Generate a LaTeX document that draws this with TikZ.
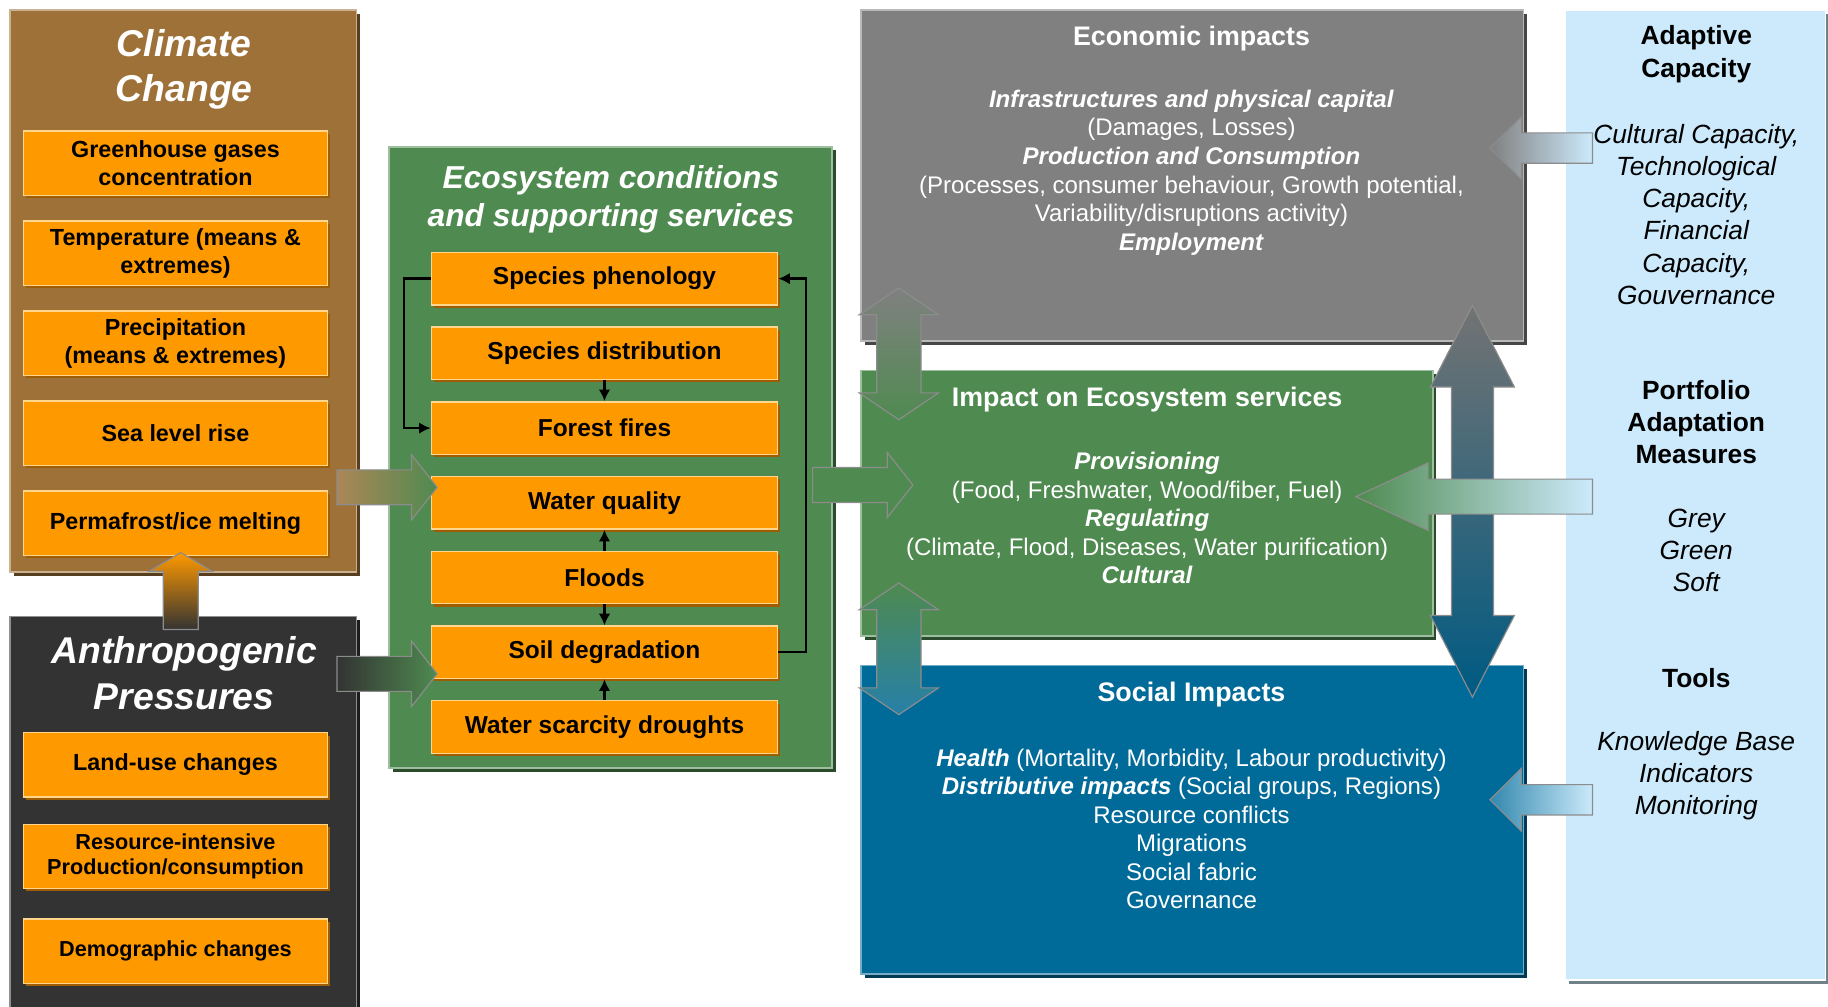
\documentclass[tikz,border=0pt]{standalone}
\usepackage{fontspec}
\setmainfont{Liberation Sans}
\usetikzlibrary{positioning, shadows, calc, arrows.meta}

\definecolor{ccbrown}{RGB}{158,113,57}
\definecolor{apdark}{RGB}{51,51,51}
\definecolor{boxorange}{RGB}{255,153,0}
\definecolor{orangedark}{RGB}{160,92,0}
\definecolor{orangelight}{RGB}{255,214,140}
\definecolor{ecogreen}{RGB}{79,138,80}
\definecolor{econgray}{RGB}{128,128,128}
\definecolor{socblue}{RGB}{0,106,153}
\definecolor{panelblue}{RGB}{204,234,251}

% fat arrows: style, tail, tip, shaft half width, head half width, head length
\newcommand{\fatarrowh}[6]{%
  \path[#1] let \p1=(#2), \p2=(#3) in
    ({\x1},{\y2+#4}) -- ({\x2-(#6)},{\y2+#4}) -- ({\x2-(#6)},{\y2+#5}) -- ({\x2},{\y2})
    -- ({\x2-(#6)},{\y2-#5}) -- ({\x2-(#6)},{\y2-#4}) -- ({\x1},{\y2-#4}) -- cycle;}
\newcommand{\fatarrowv}[6]{%
  \path[#1] let \p1=(#2), \p2=(#3) in
    ({\x2-#4},{\y1}) -- ({\x2-#4},{\y2-(#6)}) -- ({\x2-#5},{\y2-(#6)}) -- ({\x2},{\y2})
    -- ({\x2+#5},{\y2-(#6)}) -- ({\x2+#4},{\y2-(#6)}) -- ({\x2+#4},{\y1}) -- cycle;}
% double arrow: style, top tip, bottom tip, shaft, head, head length
\newcommand{\fatarrowvv}[6]{%
  \path[#1] let \p1=(#2), \p2=(#3) in
    ({\x1},{\y1}) -- ({\x1+#5},{\y1-#6}) -- ({\x1+#4},{\y1-#6}) -- ({\x1+#4},{\y2+#6})
    -- ({\x1+#5},{\y2+#6}) -- ({\x1},{\y2}) -- ({\x1-#5},{\y2+#6}) -- ({\x1-#4},{\y2+#6})
    -- ({\x1-#4},{\y1-#6}) -- ({\x1-#5},{\y1-#6}) -- cycle;}

\tikzset{
  panel/.style={fill=#1, draw=#1!55!white, line width=0.8pt, anchor=north west, inner sep=0pt,
    drop shadow={shadow xshift=1.6pt, shadow yshift=-1.6pt, opacity=1, fill=#1!55!black}},
  factor/.style={fill=boxorange, draw=orangelight, line width=0.6pt, inner sep=0pt, align=center,
    drop shadow={shadow xshift=1.2pt, shadow yshift=-1.2pt, opacity=1, fill=orangedark}},
  ccfactor/.style={factor, minimum width=130.5pt, minimum height=27.5pt,
    font=\bfseries\fontsize{10}{12}\selectfont},
  ecofactor/.style={factor, minimum width=148.5pt, minimum height=22.5pt,
    font=\bfseries\fontsize{10.5}{12}\selectfont},
  bigtitle/.style={text=white, align=center, font=\bfseries\itshape\fontsize{16}{19.5}\selectfont},
  boxtitle/.style={text=white, font=\bfseries\fontsize{11.5}{13}\selectfont},
  boxbody/.style={text=white, align=center, font=\fontsize{10.3}{12.25}\selectfont},
  paneltext/.style={align=center, font=\fontsize{11.3}{13.75}\selectfont},
  loop/.style={line width=1pt, -{Latex[length=5pt,width=5pt]}},
  fat/.style={draw=white!55!black, line width=0.5pt}
}

\begin{document}
\begin{tikzpicture}[x=0.5pt, y=-0.5pt]
\useasboundingbox (0,0) rectangle (1568,863);

% drivers
\node[panel=ccbrown, minimum width=148.5pt, minimum height=241pt] (climate) at (8,8) {};
\node[bigtitle] (cctitle) at (158,59.5) {Climate\\Change};
\node[ccfactor] (ghg) at (150.5,140) {Greenhouse gases\\concentration};
\node[ccfactor, below=10.5pt of ghg] (temp) {Temperature (means \&\\extremes)};
\node[ccfactor, below=10.5pt of temp] (prec) {Precipitation\\(means \& extremes)};
\node[ccfactor, below=10.5pt of prec] (sea) {Sea level rise};
\node[ccfactor, below=10.5pt of sea] (perma) {Permafrost/ice melting};

\node[panel=apdark, minimum width=148.5pt, minimum height=175pt] (anthro) at (8,528) {};
\node[bigtitle] (aptitle) at (158,577.5) {Anthropogenic\\Pressures};
\node[ccfactor] (landuse) at (150.5,656) {Land-use changes};
\node[ccfactor, below=11.25pt of landuse, font=\bfseries\fontsize{9.3}{11}\selectfont] (resource) {Resource-intensive\\Production/consumption};
\node[ccfactor, below=12.5pt of resource, font=\bfseries\fontsize{9.3}{11}\selectfont] (demog) {Demographic changes};

% ecosystem conditions
\node[panel=ecogreen, minimum width=190pt, minimum height=266.5pt] (eco) at (333,125) {};
\node[bigtitle, font=\bfseries\itshape\fontsize{13.6}{16.5}\selectfont] (ecotitle) at (524,171) {Ecosystem conditions\\and supporting services};
\node[ecofactor] (phen) at (518.5,239) {Species phenology};
\node[ecofactor, below=8.95pt of phen] (dist) {Species distribution};
\node[ecofactor, below=8.95pt of dist] (fire) {Forest fires};
\node[ecofactor, below=8.95pt of fire] (wq) {Water quality};
\node[ecofactor, below=8.95pt of wq] (flood) {Floods};
\node[ecofactor, below=8.95pt of flood] (soil) {Soil degradation};
\node[ecofactor, below=8.95pt of soil] (scarc) {Water scarcity droughts};

\draw[loop] (phen.west) -- ++(-11.5pt,0) |- (fire.west);
\draw[loop] (soil.east) -- ++(12pt,0) |- (phen.east);
\draw[loop] (dist.south) -- (fire.north);
\draw[loop] (flood.north) -- (wq.south);
\draw[loop] (flood.south) -- (soil.north);
\draw[loop] (scarc.north) -- (soil.south);

% impacts
\node[panel=econgray, minimum width=284pt, minimum height=142pt] (econ) at (738,8) {};
\node[boxtitle] (econtitle) at (1022,33) {Economic impacts};
\node[boxbody] (econtext) at (1022,148) {\textbf{\textit{Infrastructures and physical capital}}\\(Damages, Losses)\\\textbf{\textit{Production and Consumption}}\\(Processes, consumer behaviour, Growth potential,\\Variability/disruptions activity)\\\textbf{\textit{Employment}}};

\node[panel=ecogreen, minimum width=245pt, minimum height=114pt] (impact) at (738,317) {};
\node[boxtitle] (impacttitle) at (984,342.5) {Impact on Ecosystem services};
\node[boxbody] (impacttext) at (984,444.5) {\textbf{\textit{Provisioning}}\\(Food, Freshwater, Wood/fiber, Fuel)\\\textbf{\textit{Regulating}}\\(Climate, Flood, Diseases, Water purification)\\\textbf{\textit{Cultural}}};

\node[panel=socblue, minimum width=284pt, minimum height=132.5pt] (social) at (738,570) {};
\node[boxtitle] (socialtitle) at (1022,595.5) {Social Impacts};
\node[boxbody] (socialtext) at (1022,711) {\textbf{\textit{Health}} (Mortality, Morbidity, Labour productivity)\\\textbf{\textit{Distributive impacts}} (Social groups, Regions)\\Resource conflicts\\Migrations\\Social fabric\\Governance};

% adaptation
\node[panel=panelblue, draw=white, minimum width=111.5pt, minimum height=416pt] (adapt) at (1342,8) {};
\node[paneltext, font=\bfseries\fontsize{11.3}{13.75}\selectfont] (adcap) at (1455,46.5) {Adaptive\\Capacity};
\node[paneltext, font=\itshape\fontsize{11.3}{13.75}\selectfont] (adcaptext) at (1455,184) {Cultural Capacity,\\Technological\\Capacity,\\Financial\\Capacity,\\Gouvernance};
\node[paneltext, font=\bfseries\fontsize{11.3}{13.75}\selectfont] (portfolio) at (1455,362) {Portfolio\\Adaptation\\Measures};
\node[paneltext, font=\itshape\fontsize{11.3}{13.75}\selectfont] (portfoliotext) at (1455,472) {Grey\\Green\\Soft};
\node[paneltext, font=\bfseries\fontsize{11.3}{13.75}\selectfont] (tools) at (1455,582) {Tools};
\node[paneltext, font=\itshape\fontsize{11.3}{13.75}\selectfont] (toolstext) at (1455,665) {Knowledge Base\\Indicators\\Monitoring};

% arrow ends
\coordinate (ccout) at (289,418);   \coordinate (ccin) at (375,418);
\coordinate (apout) at (289,578);   \coordinate (apin) at (375,578);
\coordinate (apup) at (155,540);    \coordinate (apupin) at (155,474);
\coordinate (ecoout) at (697,416);  \coordinate (ecoin) at (783,416);
\coordinate (ei-top) at (771,247);  \coordinate (ei-bot) at (771,360);
\coordinate (is-top) at (771,500);  \coordinate (is-bot) at (771,613);
\coordinate (es-top) at (1263,262); \coordinate (es-bot) at (1263,598);
\coordinate (ac-out) at (1366,127); \coordinate (ac-in) at (1278,127);
\coordinate (pm-out) at (1366,426); \coordinate (pm-in) at (1163,426);
\coordinate (tl-out) at (1366,686); \coordinate (tl-in) at (1278,686);

\fatarrowh{fat, left color=ccbrown!85!white, right color=ecogreen}{ccout}{ccin}{7.5pt}{14pt}{11pt}
\fatarrowh{fat, left color=apdark, right color=ecogreen}{apout}{apin}{7.5pt}{14pt}{11pt}
\fatarrowv{fat, top color=boxorange, bottom color=apdark}{apup}{apupin}{7.5pt}{13.5pt}{8pt}
\fatarrowh{fat, fill=ecogreen}{ecoout}{ecoin}{7.5pt}{14pt}{11pt}
\fatarrowvv{fat, top color=econgray, bottom color=ecogreen}{ei-top}{ei-bot}{9.5pt}{17pt}{11.5pt}
\fatarrowvv{fat, top color=ecogreen, bottom color=socblue!85!white}{is-top}{is-bot}{9.5pt}{17pt}{11.5pt}
\fatarrowvv{fat, top color=econgray!90!black, bottom color=socblue!85!black}{es-top}{es-bot}{9pt}{18pt}{35pt}
\fatarrowh{fat, left color=econgray, right color=panelblue}{ac-out}{ac-in}{6.5pt}{13.5pt}{-13.5pt}
\fatarrowh{fat, left color=ecogreen, right color=panelblue}{pm-out}{pm-in}{7.5pt}{14.5pt}{-31pt}
\fatarrowh{fat, left color=socblue!80!white, right color=panelblue}{tl-out}{tl-in}{6.5pt}{13.5pt}{-13.5pt}
\end{tikzpicture}
\end{document}
